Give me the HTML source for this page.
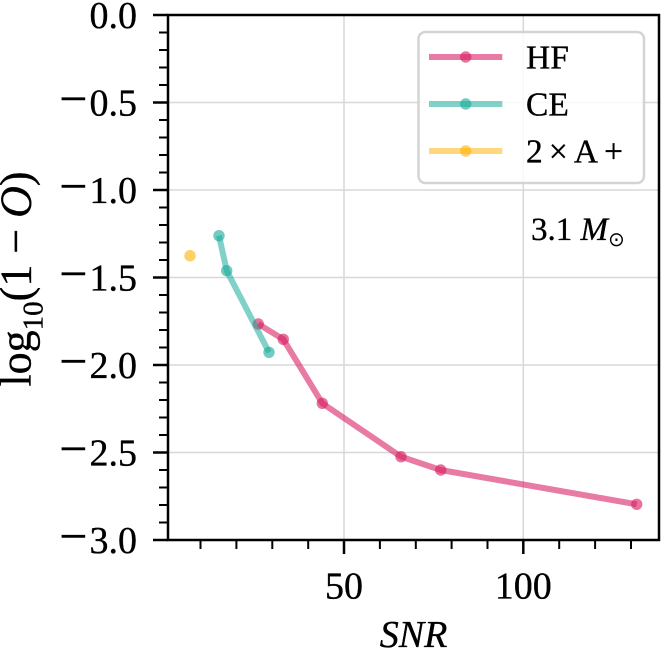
<!DOCTYPE html>
<html><head><meta charset="utf-8"><style>
html,body{margin:0;padding:0;background:#fff;}
svg{display:block;}
text{font-family:"Liberation Serif","DejaVu Serif",serif;fill:#000;stroke:#000;stroke-width:0.35;}
</style></head><body>
<svg width="662" height="652" viewBox="0 0 662 652" xmlns="http://www.w3.org/2000/svg">
<!-- grid -->
<g stroke="#d8d8d8" stroke-width="1.5">
<line x1="344" y1="15" x2="344" y2="540"/>
<line x1="523.3" y1="15" x2="523.3" y2="540"/>
<line x1="168" y1="102.5" x2="659" y2="102.5"/>
<line x1="168" y1="190" x2="659" y2="190"/>
<line x1="168" y1="277.5" x2="659" y2="277.5"/>
<line x1="168" y1="365" x2="659" y2="365"/>
<line x1="168" y1="452.5" x2="659" y2="452.5"/>
</g>
<!-- HF -->
<polyline fill="none" stroke="#d81b60" stroke-opacity="0.58" stroke-width="6" stroke-linejoin="round" points="258.3,324 283.3,339.3 322.3,403.3 401,456.7 440.7,470 636.7,504.3"/>
<g fill="#d81b60" fill-opacity="0.62">
<circle cx="258.3" cy="324" r="5.7"/><circle cx="283.3" cy="339.3" r="5.7"/><circle cx="322.3" cy="403.3" r="5.7"/><circle cx="401" cy="456.7" r="5.7"/><circle cx="440.7" cy="470" r="5.7"/><circle cx="636.7" cy="504.3" r="5.7"/>
</g>
<!-- CE -->
<polyline fill="none" stroke="#1aab9b" stroke-opacity="0.55" stroke-width="6" stroke-linejoin="round" points="219,235.7 226.7,270.7 269,352.3"/>
<g fill="#1aab9b" fill-opacity="0.62">
<circle cx="219" cy="235.7" r="5.7"/><circle cx="226.7" cy="270.7" r="5.7"/><circle cx="269" cy="352.3" r="5.7"/>
</g>
<!-- 2xA+ -->
<circle cx="190" cy="255.7" r="5.7" fill="#ffb000" fill-opacity="0.6"/>
<!-- spines -->
<rect x="168" y="15" width="491" height="525" fill="none" stroke="#000" stroke-width="2.5"/>
<!-- y ticks -->
<g stroke="#000" stroke-width="2.5">
<line x1="153" y1="15" x2="168" y2="15"/>
<line x1="153" y1="102.5" x2="168" y2="102.5"/>
<line x1="153" y1="190" x2="168" y2="190"/>
<line x1="153" y1="277.5" x2="168" y2="277.5"/>
<line x1="153" y1="365" x2="168" y2="365"/>
<line x1="153" y1="452.5" x2="168" y2="452.5"/>
<line x1="153" y1="540" x2="168" y2="540"/>
</g>
<g stroke="#000" stroke-width="2">
<line x1="159" y1="32.5" x2="168" y2="32.5"/><line x1="159" y1="50" x2="168" y2="50"/><line x1="159" y1="67.5" x2="168" y2="67.5"/><line x1="159" y1="85" x2="168" y2="85"/>
<line x1="159" y1="120" x2="168" y2="120"/><line x1="159" y1="137.5" x2="168" y2="137.5"/><line x1="159" y1="155" x2="168" y2="155"/><line x1="159" y1="172.5" x2="168" y2="172.5"/>
<line x1="159" y1="207.5" x2="168" y2="207.5"/><line x1="159" y1="225" x2="168" y2="225"/><line x1="159" y1="242.5" x2="168" y2="242.5"/><line x1="159" y1="260" x2="168" y2="260"/>
<line x1="159" y1="295" x2="168" y2="295"/><line x1="159" y1="312.5" x2="168" y2="312.5"/><line x1="159" y1="330" x2="168" y2="330"/><line x1="159" y1="347.5" x2="168" y2="347.5"/>
<line x1="159" y1="382.5" x2="168" y2="382.5"/><line x1="159" y1="400" x2="168" y2="400"/><line x1="159" y1="417.5" x2="168" y2="417.5"/><line x1="159" y1="435" x2="168" y2="435"/>
<line x1="159" y1="470" x2="168" y2="470"/><line x1="159" y1="487.5" x2="168" y2="487.5"/><line x1="159" y1="505" x2="168" y2="505"/><line x1="159" y1="522.5" x2="168" y2="522.5"/>
</g>
<!-- x ticks -->
<g stroke="#000" stroke-width="2.5">
<line x1="344" y1="540" x2="344" y2="554"/>
<line x1="523.3" y1="540" x2="523.3" y2="554"/>
</g>
<g stroke="#000" stroke-width="2">
<line x1="200.5" y1="540" x2="200.5" y2="549"/><line x1="236.4" y1="540" x2="236.4" y2="549"/><line x1="272.3" y1="540" x2="272.3" y2="549"/><line x1="308.2" y1="540" x2="308.2" y2="549"/>
<line x1="379.9" y1="540" x2="379.9" y2="549"/><line x1="415.8" y1="540" x2="415.8" y2="549"/><line x1="451.6" y1="540" x2="451.6" y2="549"/><line x1="487.5" y1="540" x2="487.5" y2="549"/>
<line x1="559.2" y1="540" x2="559.2" y2="549"/><line x1="595.1" y1="540" x2="595.1" y2="549"/><line x1="631" y1="540" x2="631" y2="549"/>
</g>
<!-- y tick labels -->
<g font-size="38" text-anchor="end">
<text x="137" y="28">0.0</text>
<text x="137" y="115.5"><tspan font-size="50">−</tspan><tspan dx="2">0.5</tspan></text>
<text x="137" y="203"><tspan font-size="50">−</tspan><tspan dx="2">1.0</tspan></text>
<text x="137" y="290.5"><tspan font-size="50">−</tspan><tspan dx="2">1.5</tspan></text>
<text x="137" y="378"><tspan font-size="50">−</tspan><tspan dx="2">2.0</tspan></text>
<text x="137" y="465.5"><tspan font-size="50">−</tspan><tspan dx="2">2.5</tspan></text>
<text x="137" y="553"><tspan font-size="50">−</tspan><tspan dx="2">3.0</tspan></text>
</g>
<!-- x tick labels -->
<g font-size="38" text-anchor="middle">
<text x="344" y="598.5">50</text>
<text x="523.3" y="598.5">100</text>
</g>
<text x="413.5" y="647" font-size="38" font-style="italic" text-anchor="middle">SNR</text>
<!-- y label -->
<text transform="translate(30.5,279) rotate(-90)" font-size="44" text-anchor="middle">log<tspan font-size="29" dy="12">10</tspan><tspan dy="-12">(1 − </tspan><tspan font-style="italic">O</tspan>)</text>
<!-- legend -->
<rect x="418.5" y="32" width="225.5" height="151" rx="7" ry="7" fill="#fff" fill-opacity="0.82" stroke="#d4d4d4" stroke-width="2.5"/>
<line x1="429" y1="57" x2="502.3" y2="57" stroke="#d81b60" stroke-opacity="0.58" stroke-width="6"/>
<circle cx="465.7" cy="57" r="5.7" fill="#d81b60" fill-opacity="0.62"/>
<line x1="429" y1="104" x2="502.3" y2="104" stroke="#1aab9b" stroke-opacity="0.55" stroke-width="6"/>
<circle cx="465.7" cy="104" r="5.7" fill="#1aab9b" fill-opacity="0.62"/>
<line x1="429" y1="151" x2="502.3" y2="151" stroke="#ffb000" stroke-opacity="0.5" stroke-width="6"/>
<circle cx="465.7" cy="151" r="5.7" fill="#ffb000" fill-opacity="0.6"/>
<g font-size="33.5">
<text x="526" y="68.7">HF</text>
<text x="526" y="115.7">CE</text>
<text x="526" y="162.7" textLength="97" lengthAdjust="spacing">2×A+</text>
</g>
<!-- annotation -->
<text x="531" y="240" font-size="33">3.1 <tspan font-style="italic">M</tspan><tspan font-family="DejaVu Sans, sans-serif" font-size="20" dy="6" stroke-width="0">⊙</tspan></text>
</svg>
</body></html>
